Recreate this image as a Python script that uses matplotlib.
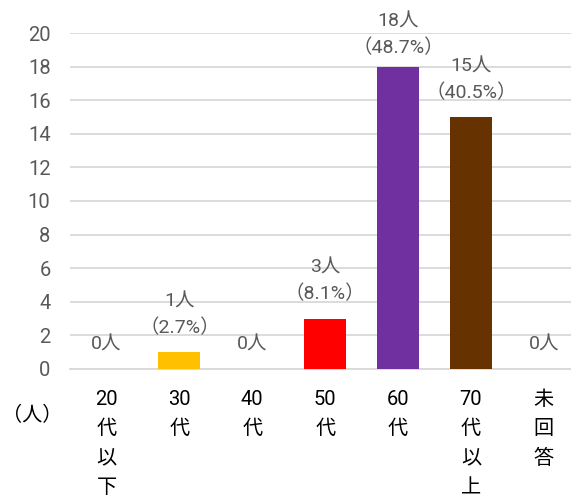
import matplotlib
matplotlib.use("Agg")
import matplotlib.pyplot as plt

plt.rcParams['font.family'] = ['Roboto', 'Noto Sans CJK JP', 'DejaVu Sans']

categories = ["20代以下", "30代", "40代", "50代", "60代", "70代以上", "未回答"]
tick_labels = ["20\n代\n以\n下", "30\n代", "40\n代", "50\n代", "60\n代", "70\n代\n以\n上", "未\n回\n答"]
counts = [0, 1, 0, 3, 18, 15, 0]
percents = [None, "2.7%", None, "8.1%", "48.7%", "40.5%", None]
colors = ["#FFC000", "#FFC000", "#FFC000", "#FF0000", "#7030A0", "#663300", "#FFC000"]

W, H = 571, 496
fig = plt.figure(figsize=(W / 100, H / 100), dpi=100)
ax = fig.add_axes([70 / W, (H - 369) / H, (W - 70) / W, (369 - 33) / H])

x = list(range(len(categories)))
ax.bar(x, counts, width=0.576, color=colors, zorder=3)

ax.set_ylim(0, 20)
ax.set_yticks(range(0, 21, 2))
ax.set_xlim(-0.5, -0.5 + (W - 70) / 72.9)
ax.set_xticks(x)
ax.set_xticklabels(tick_labels, fontsize=14.5, color="black", linespacing=1.7, va="top")
ax.tick_params(axis="x", length=0, pad=15)
ax.tick_params(axis="y", length=0, pad=14, labelcolor="#595959", labelsize=14.5)

ax.grid(axis="y", color="#D9D9D9", linewidth=1.3, zorder=0)
for s in ["top", "right", "left"]:
    ax.spines[s].set_visible(False)
ax.spines["bottom"].set_color("#D9D9D9")
ax.spines["bottom"].set_linewidth(1.3)

ymax = ax.get_ylim()[1]
for xi, c, p in zip(x, counts, percents):
    if p is None:
        txt = f"{c}人"
    else:
        txt = f"{c}人\n（{p}）"
    # labels near the top of the plot area are pushed closer to the bar
    off = 6.5 if c > 0.8 * ymax else 11
    ax.annotate(txt, (xi, c), xytext=(0, off), textcoords="offset points",
                ha="center", va="bottom", fontsize=14, color="#595959",
                linespacing=1.55)

fig.text(32 / W, 1 - 415 / H, "（人）", fontsize=14.5, color="black", ha="center", va="center")

fig.savefig("out.png", dpi=100)
